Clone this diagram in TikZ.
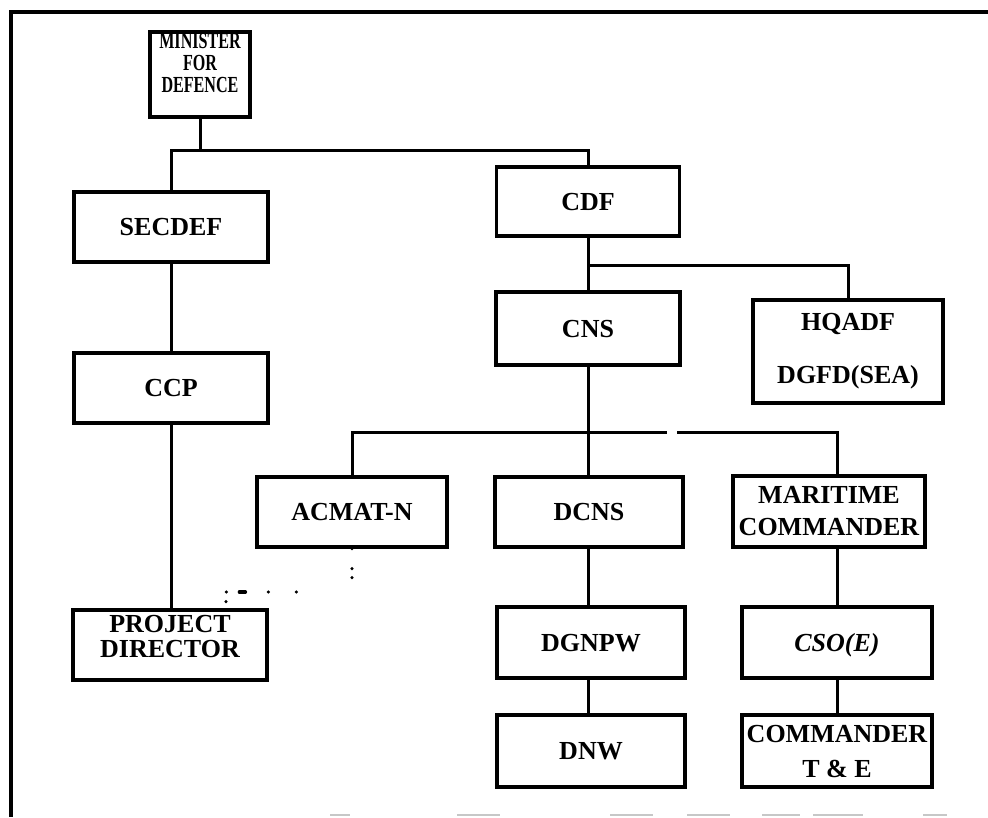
\documentclass[tikz,border=0pt]{standalone}
\usepackage{fontspec}
\setmainfont{Liberation Serif}
\newfontfamily\narrowserif[FakeStretch=0.7]{Liberation Serif}
\usetikzlibrary{calc}
\begin{document}
\begin{tikzpicture}[x=1pt,y=-1pt,
  box/.style={draw, line width=3.2pt, inner sep=0pt, align=center,
    font=\fontsize{26}{30}\selectfont\bfseries, text height=17pt, text depth=0pt},
  lbl/.style={inner sep=0pt, anchor=base, font=\fontsize{26}{30}\selectfont\bfseries},
  minlbl/.style={inner sep=0pt, anchor=base, font=\fontsize{23}{23}\selectfont\narrowserif\bfseries},
  link/.style={line width=3pt},
  dotlink/.style={line width=3.4pt, line cap=round,
    dash pattern=on 0pt off 20pt on 0pt off 9pt on 0pt off 70pt on 0pt off 28pt
      on 0pt off 23pt on 6pt off 13pt on 0pt off 10pt on 0pt off 100pt},
  frame/.style={line width=4pt},
  scanmark/.style={line width=2pt, black!22}]
\useasboundingbox (0,0) rectangle (988,817);

% outer frame (top and left edges)
\coordinate (fTL) at (11,12);
\coordinate (fTR) at (988,12);
\coordinate (fBL) at (11,817);
\draw[frame] (fTR) -- (fTL) -- (fBL);

% boxes
\node[box, minimum width=100pt, minimum height=85pt, text height=0pt] (min) at (200,74.5) {};
\node[minlbl] (minA) at (200,48) {MINISTER};
\node[minlbl] (minB) at (200,70) {FOR};
\node[minlbl] (minC) at (200,92) {DEFENCE};

\node[box, minimum width=194pt, minimum height=70pt] (secdef) at (171,227) {SECDEF};
\node[box, minimum width=183pt, minimum height=69pt] (cdf) at (588,201.5) {CDF};
\node[box, minimum width=184pt, minimum height=73pt] (cns) at (588,328.5) {CNS};
\node[box, minimum width=190pt, minimum height=103pt, text height=0pt] (hqadf) at (848,351.5) {};
\node[lbl] (hqA) at (848,330) {HQADF};
\node[lbl] (hqB) at (848,383) {DGFD(SEA)};

\node[box, minimum width=194pt, minimum height=70pt] (ccp) at (171,388) {CCP};
\node[box, minimum width=190pt, minimum height=70pt] (acmat) at (352,512) {ACMAT-N};
\node[box, minimum width=188pt, minimum height=70pt] (dcns) at (589,512) {DCNS};
\node[box, minimum width=192pt, minimum height=71pt, text height=0pt] (mar) at (829,511.5) {};
\node[lbl] (marA) at (829,503) {MARITIME};
\node[lbl] (marB) at (829,535) {COMMANDER};

\node[box, minimum width=194pt, minimum height=70pt, text height=0pt] (pd) at (170,645) {};
\node[lbl] (pdA) at (170,632) {PROJECT};
\node[lbl] (pdB) at (170,657) {DIRECTOR};
\node[box, minimum width=188pt, minimum height=71pt] (dgnpw) at (591,642.5) {DGNPW};
\node[box, minimum width=190pt, minimum height=71pt] (cso) at (837,642.5) {\itshape CSO(E)};

\node[box, minimum width=188pt, minimum height=72pt] (dnw) at (591,751) {DNW};
\node[box, minimum width=190pt, minimum height=72pt, text height=0pt] (cte) at (837,751) {};
\node[lbl] (cteA) at (837,742) {COMMANDER};
\node[lbl] (cteB) at (837,777) {T \& E};

% bus lines
\coordinate (bus1) at (0,150);
\coordinate (bus2) at (0,265);
\coordinate (bus3) at (0,432);
\coordinate (gapL) at (667,432);
\coordinate (gapR) at (677,432);
\coordinate (bend) at (226,592);

% connectors
\draw[link] (min.south) -- (min.south |- bus1);
\draw[link] (secdef.north) -- (secdef.north |- bus1) -- (cdf.north |- bus1) -- (cdf.north);
\draw[link] (secdef.south) -- (ccp.north);
\draw[link] (ccp.south) -- (ccp.south |- pd.north);
\draw[link] (cdf.south) -- (cns.north);
\draw[link] (cdf.south |- bus2) -- (hqadf.north |- bus2) -- (hqadf.north);
\draw[link] (cns.south) -- (cns.south |- dcns.north);
\draw[link] (acmat.north) -- (acmat.north |- bus3) -- (gapL);
\draw[link] (gapR) -- (cso.north |- bus3) -- (cso.north |- mar.north);
\draw[link] (cso.north |- mar.south) -- (cso.north);
\draw[link] (cso.south) -- (cso.south |- cte.north);
\draw[link] (cns.south |- dcns.south) -- (cns.south |- dgnpw.north);
\draw[link] (cns.south |- dgnpw.south) -- (cns.south |- dnw.north);

% dotted link from ACMAT-N to the project director
\draw[dotlink] (acmat.south) -- (acmat.south |- bend) -- (bend) -- (bend |- pd.north);

% faint marks along the bottom edge
\foreach \a/\b in {330/350, 457/500, 610/653, 687/730, 762/800, 813/863, 923/947}
  \draw[scanmark] (\a,815) -- (\b,815);
\end{tikzpicture}
\end{document}
